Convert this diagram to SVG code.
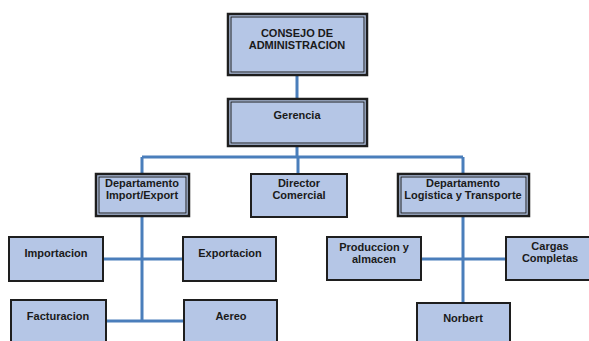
<svg xmlns="http://www.w3.org/2000/svg" width="589" height="341" viewBox="0 0 589 341">
<style>
.box{fill:#b5c6e6;stroke:#1e1e1e;stroke-width:2}
.dbl{fill:#b5c6e6;stroke:#1e1e1e;stroke-width:2.5}
.inner{fill:none;stroke:#1e1e1e;stroke-width:1}
.t{font-family:"Liberation Sans",Arial,sans-serif;font-weight:bold;font-size:11px;fill:#1a1a1a;text-anchor:middle}
.c{stroke:#4a7ebb;stroke-width:3;fill:none}
</style>
<rect width="589" height="341" fill="#ffffff"/>
<g id="connectors">
<path class="c" d="M297 75V98M297 146V157M142 157H463M142 157V173M298 157V174M463 157V174"/>
<path class="c" d="M142 216V321M103 259H183M106 321H184"/>
<path class="c" d="M463 216V303M421 259H506"/>
</g>
<g id="consejo">
<rect class="dbl" x="228" y="14" width="139" height="61"/>
<rect class="inner" x="231" y="17" width="133" height="55"/>
<text class="t" x="297" y="37">CONSEJO DE</text>
<text class="t" x="297" y="49">ADMINISTRACION</text>
</g>
<g id="gerencia">
<rect class="dbl" x="228" y="99" width="139" height="47"/>
<rect class="inner" x="231" y="102" width="133" height="41"/>
<text class="t" x="297" y="119">Gerencia</text>
</g>
<g id="dep-import">
<rect class="dbl" x="96" y="174" width="93" height="42"/>
<rect class="inner" x="99" y="177" width="87" height="36"/>
<text class="t" x="142" y="187">Departamento</text>
<text class="t" x="142" y="199">Import/Export</text>
</g>
<g id="director">
<rect class="box" x="251" y="174" width="96" height="43"/>
<text class="t" x="299" y="187">Director</text>
<text class="t" x="299" y="199">Comercial</text>
</g>
<g id="dep-logistica">
<rect class="dbl" x="398" y="174" width="131" height="42"/>
<rect class="inner" x="401" y="177" width="125" height="36"/>
<text class="t" x="463" y="187">Departamento</text>
<text class="t" x="463" y="199">Logistica y Transporte</text>
</g>
<g id="importacion">
<rect class="box" x="9" y="237" width="94" height="44"/>
<text class="t" x="56" y="257">Importacion</text>
</g>
<g id="exportacion">
<rect class="box" x="183" y="237" width="93" height="44"/>
<text class="t" x="230" y="257">Exportacion</text>
</g>
<g id="facturacion">
<rect class="box" x="11" y="300" width="95" height="50"/>
<text class="t" x="58" y="320">Facturacion</text>
</g>
<g id="aereo">
<rect class="box" x="184" y="300" width="93" height="50"/>
<text class="t" x="231" y="320">Aereo</text>
</g>
<g id="produccion">
<rect class="box" x="327" y="237" width="94" height="43"/>
<text class="t" x="374" y="251">Produccion y</text>
<text class="t" x="374" y="263">almacen</text>
</g>
<g id="cargas">
<rect class="box" x="506" y="237" width="90" height="43"/>
<text class="t" x="550" y="250">Cargas</text>
<text class="t" x="550" y="262">Completas</text>
</g>
<g id="norbert">
<rect class="box" x="417" y="303" width="93" height="50"/>
<text class="t" x="463" y="322">Norbert</text>
</g>
</svg>
